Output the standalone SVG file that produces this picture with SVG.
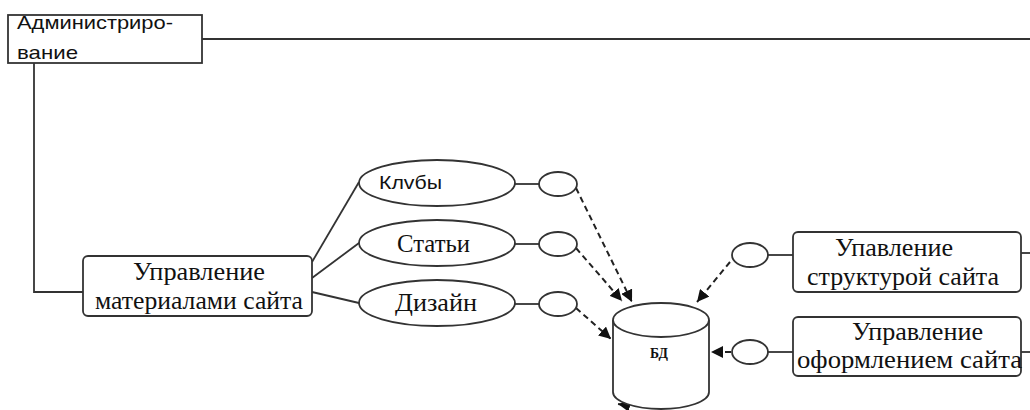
<svg xmlns="http://www.w3.org/2000/svg" width="1030" height="410" viewBox="0 0 1030 410">
  <style>
    .box { fill: #ffffff; stroke: #333333; stroke-width: 1.8; }
    .oval { fill: #ffffff; stroke: #333333; stroke-width: 1.8; }
    .line { fill: none; stroke: #333333; stroke-width: 1.8; }
    .dash { fill: none; stroke: #222222; stroke-width: 2; stroke-dasharray: 6 4; }
    .serif { font-family: "Liberation Serif", "Times New Roman", serif; font-size: 25px; fill: #111111; }
    .sans { font-family: "Liberation Sans", Arial, sans-serif; font-size: 19px; fill: #111111; }
  </style>
  <defs>
    <marker id="arrow" viewBox="0 0 10 10" refX="10" refY="5" markerWidth="12" markerHeight="12" markerUnits="userSpaceOnUse" orient="auto">
      <path d="M0,0 L10,5 L0,10 Z" fill="#111111"/>
    </marker>
  </defs>

  <!-- connectors -->
  <g id="connectors">
    <!-- administration bus -->
    <path class="line" d="M202,39 H1030"/>
    <path class="line" d="M34,63 V292 H83"/>
    <!-- content management to its sections -->
    <path class="line" d="M312,262 L359,182"/>
    <path class="line" d="M312,278 L359,243"/>
    <path class="line" d="M312,292 L359,303"/>
    <!-- sections to interface circles -->
    <path class="line" d="M515,184 H539"/>
    <path class="line" d="M515,244 H539"/>
    <path class="line" d="M515,304 H539"/>
    <!-- right boxes to interface circles -->
    <path class="line" d="M768,255 H793"/>
    <path class="line" d="M768,352 H793"/>
    <path class="line" d="M1021,253 H1030"/>
    <path class="line" d="M1021,352 H1030"/>
    <!-- data flows into the database -->
    <path class="dash" d="M576,188 L632,302" marker-end="url(#arrow)"/>
    <path class="dash" d="M576,248 L622,301" marker-end="url(#arrow)"/>
    <path class="dash" d="M576,308 L611,339" marker-end="url(#arrow)"/>
    <path class="dash" d="M730,262 L697,302" marker-end="url(#arrow)"/>
    <path class="dash" d="M731,352 H711" marker-end="url(#arrow)"/>
    <path class="line" d="M630,406 L618,404" marker-end="url(#arrow)"/>
  </g>

  <g id="admin">
    <rect class="box" x="8" y="15" width="194" height="48"/>
    <text class="sans" x="17" y="29" textLength="156" lengthAdjust="spacingAndGlyphs">Администриро-</text>
    <text class="sans" x="17" y="59" textLength="61" lengthAdjust="spacingAndGlyphs">вание</text>
  </g>

  <g id="content-management">
    <rect class="box" x="83" y="256" width="229" height="60" rx="5"/>
    <text class="serif" x="133" y="280" textLength="132" lengthAdjust="spacingAndGlyphs">Управление</text>
    <text class="serif" x="95" y="309" textLength="208" lengthAdjust="spacingAndGlyphs">материалами сайта</text>
  </g>

  <g id="clubs">
    <ellipse class="oval" cx="437" cy="183" rx="78" ry="23"/>
    <text class="sans" x="379" y="189" textLength="63" lengthAdjust="spacingAndGlyphs">Клvбы</text>
  </g>
  <g id="articles">
    <ellipse class="oval" cx="437" cy="243" rx="78" ry="23"/>
    <text class="serif" x="397" y="252" textLength="73" lengthAdjust="spacingAndGlyphs">Статьи</text>
  </g>
  <g id="design">
    <ellipse class="oval" cx="437" cy="303" rx="78" ry="23"/>
    <text class="serif" x="395" y="311" textLength="82" lengthAdjust="spacingAndGlyphs">Дизайн</text>
  </g>

  <g id="iface-clubs"><ellipse class="oval" cx="558" cy="184" rx="19" ry="12"/></g>
  <g id="iface-articles"><ellipse class="oval" cx="558" cy="244" rx="19" ry="12"/></g>
  <g id="iface-design"><ellipse class="oval" cx="558" cy="304" rx="19" ry="12"/></g>
  <g id="iface-structure"><ellipse class="oval" cx="750" cy="255" rx="18" ry="12"/></g>
  <g id="iface-style"><ellipse class="oval" cx="750" cy="352" rx="18" ry="12"/></g>

  <g id="database">
    <path class="box" d="M613,320 V392 A48,17 0 0 0 709,392 V320"/>
    <ellipse class="box" cx="661" cy="320" rx="48" ry="17"/>
    <text x="650" y="358" font-family="'Liberation Serif', serif" font-size="15" font-weight="bold" fill="#111111" textLength="18" lengthAdjust="spacingAndGlyphs">БД</text>
  </g>

  <g id="structure-management">
    <rect class="box" x="793" y="232" width="228" height="60" rx="5"/>
    <text class="serif" x="835" y="256" textLength="118" lengthAdjust="spacingAndGlyphs">Упавление</text>
    <text class="serif" x="807" y="285" textLength="192" lengthAdjust="spacingAndGlyphs">структурой сайта</text>
  </g>

  <g id="style-management">
    <rect class="box" x="793" y="317" width="228" height="59" rx="5"/>
    <text class="serif" x="852" y="340" textLength="131" lengthAdjust="spacingAndGlyphs">Управление</text>
    <text class="serif" x="797" y="368" textLength="225" lengthAdjust="spacingAndGlyphs">оформлением сайта</text>
  </g>
</svg>
